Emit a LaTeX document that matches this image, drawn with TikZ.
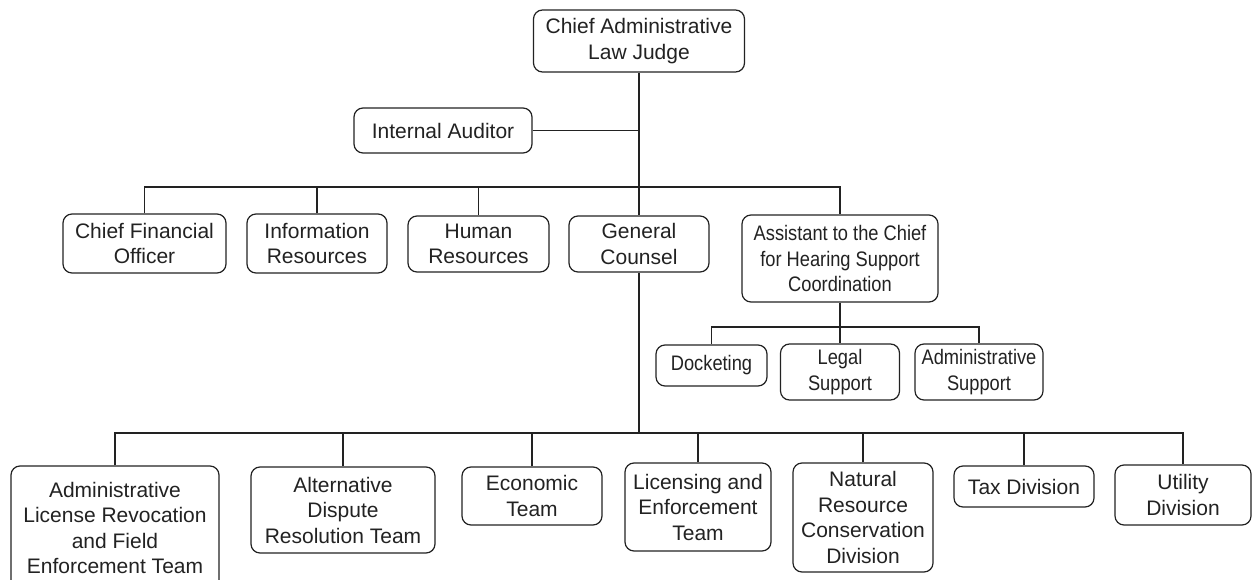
\documentclass[tikz,border=0pt]{standalone}
\usepackage{fontspec}
\setmainfont{Liberation Sans}
\newfontfamily\narrowfont{Liberation Sans}[FakeStretch=0.87]
\definecolor{ink}{HTML}{222222}
\begin{document}
\begin{tikzpicture}[x=1pt,y=-1pt,
  box/.style={draw=ink, line width=1.2pt, rounded corners=9pt, align=center,
    inner sep=0pt, text=ink, font=\fontsize{21}{25.5}\selectfont},
  nbox/.style={box, font=\narrowfont\fontsize{21}{25.5}\selectfont},
  link/.style={draw=ink, line width=1.2pt}]
\useasboundingbox (0,0) rectangle (1252,580);
\fill[white] (0,0) rectangle (1252,580);
\clip (0,0) rectangle (1252,580);
\coordinate (b1) at (0,187);
\coordinate (b2) at (0,327);
\coordinate (b3) at (0,433);
% top levels
\node[box, minimum width=211pt, minimum height=62pt] (top) at (639,41) {Chief Administrative\\Law Judge};
\node[box, minimum width=178pt, minimum height=45pt] (aud) at (443,130.5) {Internal Auditor};
\node[box, minimum width=163pt, minimum height=59pt] (cfo) at (144.5,243.5) {Chief Financial\\Officer};
\node[box, minimum width=140pt, minimum height=59pt] (ir) at (317,243.5) {Information\\Resources};
\node[box, minimum width=141pt, minimum height=56pt] (hr) at (478.5,244) {Human\\Resources};
\node[box, minimum width=140pt, minimum height=56pt] (gc) at (639,244) {General\\Counsel};
\node[nbox, minimum width=196pt, minimum height=87pt] (asst) at (840,258.5) {Assistant to the Chief\\for Hearing Support\\Coordination};
% assistant subtree
\node[nbox, minimum width=111pt, minimum height=41pt] (dock) at (711.5,365.5) {Docketing};
\node[nbox, minimum width=119pt, minimum height=56pt] (legal) at (840,372) {Legal\\Support};
\node[nbox, minimum width=128pt, minimum height=56pt] (adsup) at (979,372) {Administrative\\Support};
% bottom row
\node[box, minimum width=208pt, minimum height=124pt] (alr) at (115,528) {Administrative\\License Revocation\\and Field\\Enforcement Team};
\node[box, minimum width=184pt, minimum height=86pt] (adr) at (343,510) {Alternative\\Dispute\\Resolution Team};
\node[box, minimum width=140pt, minimum height=58pt] (eco) at (532,496) {Economic\\Team};
\node[box, minimum width=146pt, minimum height=88pt] (lic) at (698,507) {Licensing and\\Enforcement\\Team};
\node[box, minimum width=140pt, minimum height=109pt] (nat) at (863,517.5) {Natural\\Resource\\Conservation\\Division};
\node[box, minimum width=140pt, minimum height=41pt] (tax) at (1024,486.5) {Tax Division};
\node[box, minimum width=136pt, minimum height=60pt] (util) at (1183,495) {Utility\\Division};
% connectors
\path[link] (top.south) -- (gc.north);
\path[link] (aud.east) -- (aud.east -| top.south);
\path[link] (cfo.north) -- (cfo.north |- b1) -- (asst.north |- b1) -- (asst.north);
\path[link] (ir.north) -- (ir.north |- b1);
\path[link] (hr.north) -- (hr.north |- b1);
\path[link] (asst.south) -- (legal.north);
\path[link] (dock.north) -- (dock.north |- b2) -- (adsup.north |- b2) -- (adsup.north);
\path[link] (gc.south) -- (gc.south |- b3);
\path[link] (alr.north) -- (alr.north |- b3) -- (util.north |- b3) -- (util.north);
\path[link] (adr.north) -- (adr.north |- b3);
\path[link] (eco.north) -- (eco.north |- b3);
\path[link] (lic.north) -- (lic.north |- b3);
\path[link] (nat.north) -- (nat.north |- b3);
\path[link] (tax.north) -- (tax.north |- b3);
\end{tikzpicture}
\end{document}
